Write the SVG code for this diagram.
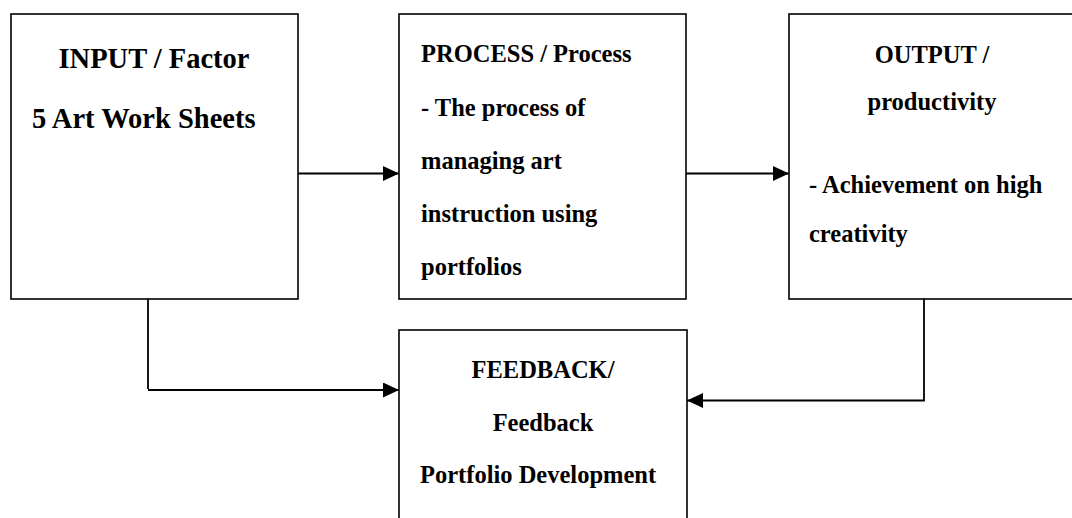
<svg xmlns="http://www.w3.org/2000/svg" width="1072" height="518" viewBox="0 0 1072 518">
<style>
.box{fill:#fff;stroke:#000;stroke-width:1.6}
.t{font-family:"Liberation Serif","Times New Roman",serif;font-weight:bold;fill:#000;font-size:24.5px}
.big{font-size:28.5px}
.c{text-anchor:middle}
.ln{fill:none;stroke:#000;stroke-width:1.8}
</style>
<defs>
<marker id="ah" markerWidth="16" markerHeight="15" refX="16" refY="7.5" orient="auto" markerUnits="userSpaceOnUse">
<path d="M0,0 L16,7.5 L0,15 Z" fill="#000"/>
</marker>
</defs>
<rect width="1072" height="518" fill="#fff"/>
<g id="input">
<rect class="box" x="11" y="14" width="287" height="285"/>
<text class="t big c" x="154" y="68">INPUT / Factor</text>
<text class="t big" x="32" y="128">5 Art Work Sheets</text>
</g>
<g id="process">
<rect class="box" x="399" y="14" width="287" height="285"/>
<text class="t" x="421" y="62">PROCESS / Process</text>
<text class="t" x="421" y="116">- The process of</text>
<text class="t" x="421" y="169">managing art</text>
<text class="t" x="421" y="222">instruction using</text>
<text class="t" x="421" y="275">portfolios</text>
</g>
<g id="output">
<rect class="box" x="789" y="14" width="300" height="285"/>
<text class="t c" x="932" y="63">OUTPUT /</text>
<text class="t c" x="932" y="110">productivity</text>
<text class="t" x="809" y="193">- Achievement on high</text>
<text class="t" x="809" y="242">creativity</text>
</g>
<g id="feedback">
<rect class="box" x="399" y="330" width="288" height="200"/>
<text class="t c" x="543" y="378">FEEDBACK/</text>
<text class="t c" x="543" y="431">Feedback</text>
<text class="t" x="420" y="483">Portfolio Development</text>
</g>
<g id="connectors">
<path class="ln" d="M298,173.5 H399" marker-end="url(#ah)"/>
<path class="ln" d="M686,173.5 H789" marker-end="url(#ah)"/>
<path class="ln" d="M148,299 V389"/>
<path class="ln" d="M148,390 H399" marker-end="url(#ah)"/>
<path class="ln" d="M924,299 V400.5 H687" marker-end="url(#ah)"/>
</g>
</svg>
